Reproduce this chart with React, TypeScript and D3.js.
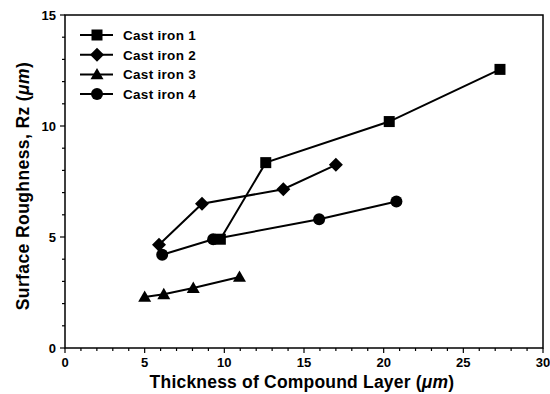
import * as d3 from 'd3';

// Thickness of compound layer (µm) vs surface roughness Rz (µm)
const seriesNames = ['Cast iron 1', 'Cast iron 2', 'Cast iron 3', 'Cast iron 4'];
const markers = ['square', 'diamond', 'triangle', 'circle'];

const iron1X = [9.75, 12.6, 20.35, 27.3];
const iron1Y = [4.9, 8.35, 10.2, 12.55];
const iron2X = [5.9, 8.6, 13.7, 17.0];
const iron2Y = [4.65, 6.5, 7.15, 8.25];
const iron3X = [5.0, 6.2, 8.05, 10.95];
const iron3Y = [2.3, 2.42, 2.7, 3.2];
const iron4X = [6.1, 9.3, 15.95, 20.8];
const iron4Y = [4.2, 4.9, 5.8, 6.6];

const xTicks = [0, 5, 10, 15, 20, 25, 30];
const yTicks = [0, 5, 10, 15];

const W = 550;
const H = 394;
const margin = { top: 15, right: 7, bottom: 46, left: 65 };

function Marker({ type, x, y }: { type: string; x: number; y: number }) {
  if (type === 'square') return <rect x={x - 5.5} y={y - 5.5} width={11} height={11} fill="#000" />;
  if (type === 'circle') return <circle cx={x} cy={y} r={6} fill="#000" />;
  if (type === 'diamond') {
    const s = 7;
    return <path d={`M${x},${y - s}L${x + s},${y}L${x},${y + s}L${x - s},${y}Z`} fill="#000" />;
  }
  const s = 6.5;
  return <path d={`M${x},${y - s}L${x + s},${y + s * 0.75}L${x - s},${y + s * 0.75}Z`} fill="#000" />;
}

export default function App() {
  const x = d3.scaleLinear().domain([0, 30]).range([margin.left, W - margin.right]);
  const y = d3.scaleLinear().domain([0, 15]).range([H - margin.bottom, margin.top]);

  const series = [
    [iron1X, iron1Y],
    [iron2X, iron2Y],
    [iron3X, iron3Y],
    [iron4X, iron4Y],
  ].map(([xs, ys]) => xs.map((v, i) => [v, ys[i]] as [number, number]));

  const line = d3.line<[number, number]>().x(d => x(d[0])).y(d => y(d[1]));

  const font = '"Liberation Sans", Arial, sans-serif';
  const x0 = x(0), x1 = x(30), y0 = y(0), y1 = y(15);

  return (
    <svg width={W} height={H} style={{ position: 'absolute', left: 0, top: 0, background: '#fff' }}
      fontFamily={font} fontWeight="bold">
      {/* frame */}
      <rect x={x0} y={y1} width={x1 - x0} height={y0 - y1} fill="none" stroke="#000" strokeWidth={1.5} />

      {/* x ticks */}
      {d3.range(0, 31, 1).map(v => (
        <line key={'xt' + v} x1={x(v)} x2={x(v)} y1={y0} y2={y0 + (v % 5 === 0 ? 5 : 3)} stroke="#000" strokeWidth={1.2} />
      ))}
      {xTicks.map(v => (
        <text key={'xl' + v} x={x(v)} y={y0 + 19} textAnchor="middle" fontSize={13}>{v}</text>
      ))}

      {/* y ticks */}
      {d3.range(0, 15.01, 1).map(v => (
        <line key={'yt' + v} x1={x0 - (v % 5 === 0 ? 5 : 3)} x2={x0} y1={y(v)} y2={y(v)} stroke="#000" strokeWidth={1.2} />
      ))}
      {yTicks.map(v => (
        <text key={'yl' + v} x={x0 - 9} y={y(v) + 4.5} textAnchor="end" fontSize={13}>{v}</text>
      ))}

      {/* axis titles */}
      <text x={302} y={388} textAnchor="middle" fontSize={17.5} letterSpacing={0.2}>
        Thickness of Compound Layer (<tspan fontStyle="italic">μm</tspan>)
      </text>
      <text transform="translate(29,186) rotate(-90)" textAnchor="middle" fontSize={17.5} letterSpacing={0.4}>
        Surface Roughness, Rz (<tspan fontStyle="italic">μm</tspan>)
      </text>

      {/* series */}
      {series.map((pts, si) => (
        <g key={'s' + si}>
          <path d={line(pts) || ''} fill="none" stroke="#000" strokeWidth={2} />
          {pts.map((p, i) => (
            <Marker key={i} type={markers[si]} x={x(p[0])} y={y(p[1])} />
          ))}
        </g>
      ))}

      {/* legend */}
      {seriesNames.map((name, i) => {
        const ly = 35 + i * 19.7;
        return (
          <g key={'lg' + i}>
            <line x1={80} x2={113} y1={ly} y2={ly} stroke="#000" strokeWidth={2} />
            <Marker type={markers[i]} x={97} y={ly} />
            <text x={123} y={ly + 5} fontSize={13.5} letterSpacing={0.3}>{name}</text>
          </g>
        );
      })}
    </svg>
  );
}
